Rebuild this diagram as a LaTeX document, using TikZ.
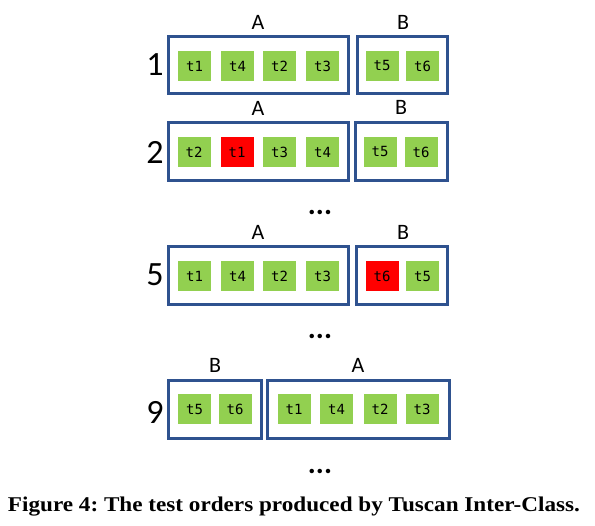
\documentclass[tikz,border=0pt]{standalone}
\usepackage{fontspec}
\setmainfont{Liberation Serif}
\newfontfamily\calib{Carlito}
\newfontfamily\mono{DejaVu Sans Mono}
\definecolor{boxblue}{RGB}{47,82,143}
\definecolor{tgreen}{RGB}{146,208,80}
\definecolor{tred}{RGB}{255,0,0}
\frenchspacing
\begin{document}
\begin{tikzpicture}[x=1pt,y=-1pt,
  grp/.style={draw=boxblue,line width=3pt},
  tc/.style={fill=tgreen,minimum width=33pt,minimum height=30pt,inner sep=0pt,font=\mono\fontsize{14}{15}\selectfont},
  tf/.style={tc,fill=tred},
  rowlab/.style={inner sep=0pt,font=\calib\fontsize{34}{36}\selectfont},
  grplab/.style={inner sep=0pt,font=\calib\fontsize{22}{24}\selectfont},
  dots/.style={inner sep=0pt,font=\calib\bfseries\fontsize{30}{32}\selectfont}]
\useasboundingbox (0,0) rectangle (595,526);
% row 1
\draw[grp] (168,37) rectangle (348,94);
\draw[grp] (357,37) rectangle (447,94);
\node[rowlab] (r1) at (155,65) {1};
\node[grplab] (a1) at (258,22) {A};
\node[grplab] (b1) at (403,22) {B};
\node[tc] (r1t1) at (194.5,66) {t1};
\node[tc] (r1t4) at (237.5,66) {t4};
\node[tc] (r1t2) at (279.5,66) {t2};
\node[tc] (r1t3) at (322.5,66) {t3};
\node[tc] (r1t5) at (382,66) {t5};
\node[tc] (r1t6) at (422.5,66) {t6};
% row 2
\draw[grp] (168,123) rectangle (348,181);
\draw[grp] (355,123) rectangle (447,181);
\node[rowlab] (r2) at (155,152) {2};
\node[grplab] (a2) at (258,108) {A};
\node[grplab] (b2) at (401,107) {B};
\node[tc] (r2t2) at (194,152) {t2};
\node[tf] (r2t1) at (237,152) {t1};
\node[tc] (r2t3) at (279.5,152) {t3};
\node[tc] (r2t4) at (322.5,152) {t4};
\node[tc] (r2t5) at (380,152) {t5};
\node[tc] (r2t6) at (421,152) {t6};
\node[dots] (d1) at (320,212) {...};
% row 5
\draw[grp] (168,247) rectangle (348,305);
\draw[grp] (356,247) rectangle (447,305);
\node[rowlab] (r5) at (155,275) {5};
\node[grplab] (a5) at (258,232) {A};
\node[grplab] (b5) at (403,232) {B};
\node[tc] (r5t1) at (194.5,276) {t1};
\node[tc] (r5t4) at (237.5,276) {t4};
\node[tc] (r5t2) at (279.5,276) {t2};
\node[tc] (r5t3) at (322.5,276) {t3};
\node[tf] (r5t6) at (382,276) {t6};
\node[tc] (r5t5) at (422.5,276) {t5};
\node[dots] (d2) at (320,336) {...};
% row 9
\draw[grp] (168,381) rectangle (261,439);
\draw[grp] (267,381) rectangle (449,439);
\node[rowlab] (r9) at (155,412) {9};
\node[grplab] (b9) at (215,365) {B};
\node[grplab] (a9) at (358,365) {A};
\node[tc] (r9t5) at (194.5,409) {t5};
\node[tc] (r9t6) at (235,409) {t6};
\node[tc] (r9t1) at (294,409) {t1};
\node[tc] (r9t4) at (336.5,409) {t4};
\node[tc] (r9t2) at (380,409) {t2};
\node[tc] (r9t3) at (422,409) {t3};
\node[dots] (d3) at (320,471) {...};
% caption
\node[inner sep=0pt,anchor=base,font=\bfseries\fontsize{21}{23}\selectfont] (cap) at (294,512) {\resizebox{572pt}{\height}{Figure 4: The test orders produced by Tuscan Inter-Class.}};
\end{tikzpicture}
\end{document}
